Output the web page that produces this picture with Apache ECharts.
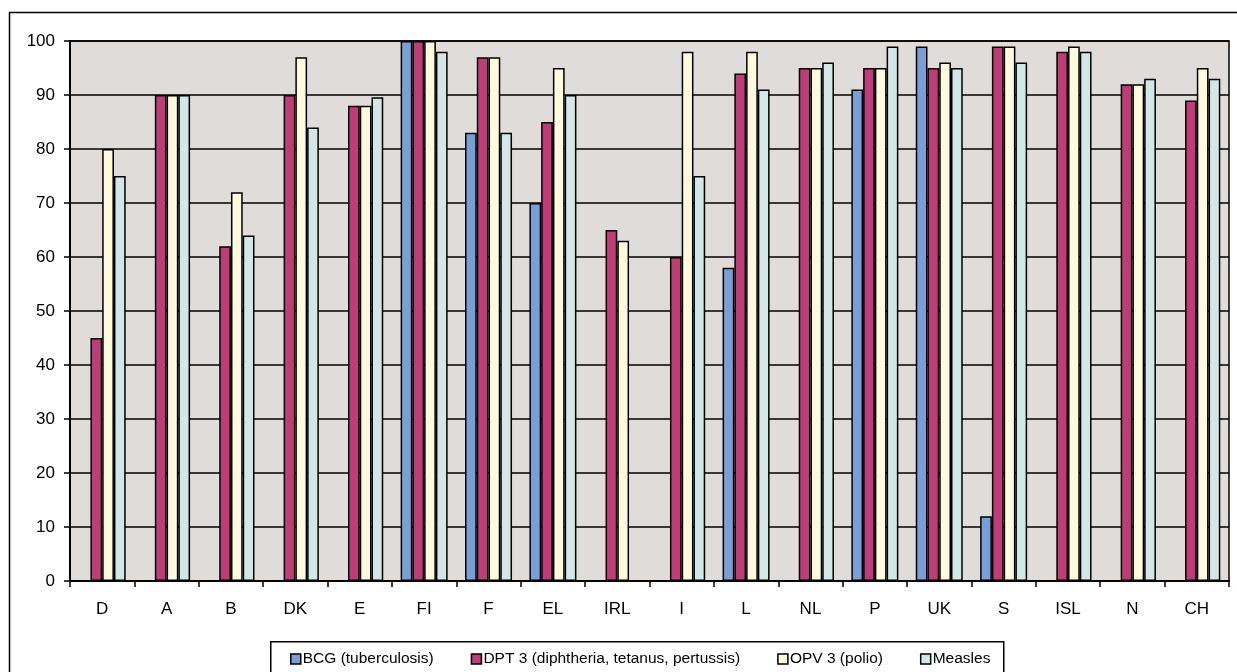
<!DOCTYPE html>
<html>
<head>
<meta charset="utf-8">
<script src="https://cdn.jsdelivr.net/npm/echarts@6/dist/echarts.min.js"></script>
<style>
  html, body { margin: 0; padding: 0; background: #fff; }
  #chart { width: 1237px; height: 672px; }
</style>
</head>
<body>
<div id="chart"></div>
<script>
// countries
const countries = ['D', 'A', 'B', 'DK', 'E', 'FI', 'F', 'EL', 'IRL', 'I', 'L', 'NL', 'P', 'UK', 'S', 'ISL', 'N', 'CH'];

// vaccination coverage (%), null = no bar
const bcg     = [null, null, null, null, null, 100, 83, 70, null, null, 58, null, 91, 99, 12, null, null, null];
const dpt3    = [45, 90, 62, 90, 88, 100, 97, 85, 65, 60, 94, 95, 95, 95, 99, 98, 92, 89];
const opv3    = [80, 90, 72, 97, 88, 100, 97, 95, 63, 98, 98, 95, 95, 96, 99, 99, 92, 95];
const measles = [75, 90, 64, 84, 89.6, 98, 83, 90, null, 75, 91, 96, 99, 95, 96, 98, 93, 93];

const seriesNames = ['BCG (tuberculosis)', 'DPT 3 (diphtheria, tetanus, pertussis)', 'OPV 3 (polio)', 'Measles'];
const seriesColors = ['#7A9FD4', '#BE3D76', '#FFF9DE', '#D3E7E6'];
const seriesData = [bcg, dpt3, opv3, measles];

const chart = echarts.init(document.getElementById('chart'));

chart.setOption({
  animation: false,
  textStyle: { fontFamily: 'Arial, "Liberation Sans", sans-serif', color: '#000' },
  graphic: [
    // outer frame
    { type: 'rect', left: 7, top: 10, shape: { width: 1240, height: 700 },
      style: { fill: 'none', stroke: '#000', lineWidth: 1.5 }, silent: true },
    // legend frame
    { type: 'rect', left: 270, top: 641, shape: { width: 733, height: 50 },
      style: { fill: '#fff', stroke: '#000', lineWidth: 1.5 }, silent: true, z: 0 }
  ],
  grid: {
    left: 70, top: 41, right: 8, bottom: 91,
    show: true,
    backgroundColor: '#E0DCDA',
    borderColor: '#000',
    borderWidth: 1.5
  },
  legend: {
    left: 285, top: 646,
    icon: 'rect',
    itemWidth: 10, itemHeight: 10,
    itemGap: 37,
    itemStyle: { borderColor: '#000', borderWidth: 1.5 },
    textStyle: { fontSize: 15.5, color: '#000', padding: [0, 0, 0, -3] },
    data: seriesNames,
    z: 5
  },
  xAxis: {
    type: 'category',
    data: countries,
    axisLine: { lineStyle: { color: '#000', width: 2 } },
    axisTick: { show: true, length: 6, lineStyle: { color: '#000', width: 1.5 } },
    axisLabel: { fontSize: 17, color: '#000', margin: 20 },
    splitLine: { show: false }
  },
  yAxis: {
    type: 'value',
    min: 0, max: 100, interval: 10,
    axisLine: { show: true, lineStyle: { color: '#000', width: 2 } },
    axisTick: { show: true, length: 6, lineStyle: { color: '#000', width: 1.5 } },
    axisLabel: { fontSize: 17, color: '#000', margin: 15 },
    splitLine: { show: true, lineStyle: { color: '#000', width: 1.5 } }
  },
  series: seriesData.map((d, i) => ({
    name: seriesNames[i],
    type: 'bar',
    data: d,
    barGap: '0%',
    barCategoryGap: '27%',
    itemStyle: { color: seriesColors[i], borderColor: '#000', borderWidth: 1.5 }
  }))
});
</script>
</body>
</html>
